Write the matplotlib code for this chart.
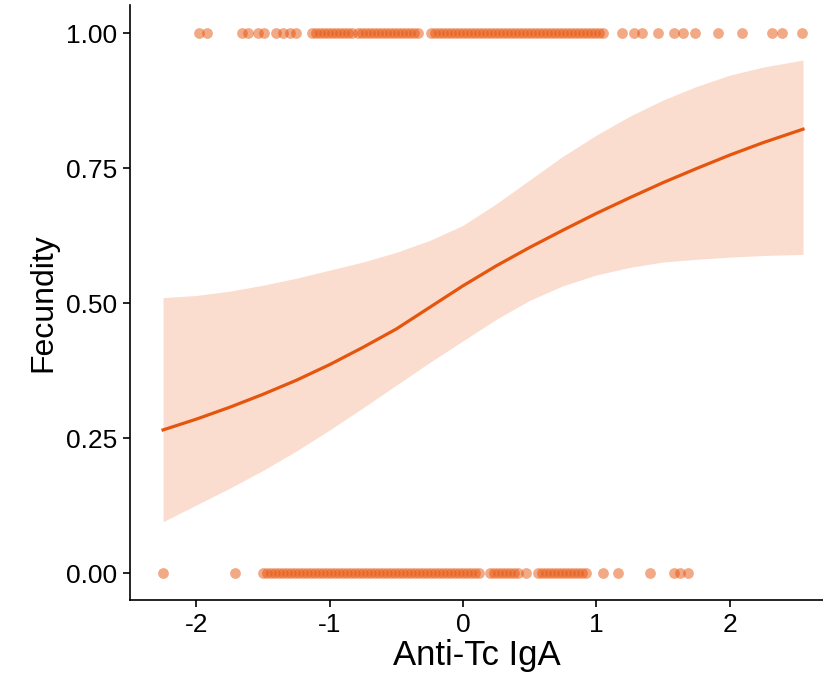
import numpy as np
import matplotlib
matplotlib.use("Agg")
import matplotlib.pyplot as plt

plt.rcParams['font.family'] = ['Liberation Sans', 'DejaVu Sans']
plt.rcParams['axes.unicode_minus'] = False

# ---- data ----
# individuals with Fecundity = 1
x_one = [-1.98, -1.92, -1.66, -1.61, -1.54, -1.49, -1.40, -1.35, -1.30, -1.25, -1.13,
         -1.10, -1.07, -1.04, -1.01, -0.98, -0.95, -0.92, -0.89, -0.86, -0.83,
         -0.79, -0.76, -0.73, -0.70, -0.67, -0.64, -0.61, -0.58, -0.55, -0.52,
         -0.49, -0.46, -0.43, -0.40, -0.37, -0.34,
         -0.24, -0.21, -0.18, -0.15, -0.12, -0.09, -0.06, -0.03, 0.00, 0.03,
         0.06, 0.09, 0.12, 0.15, 0.18, 0.21, 0.24, 0.27, 0.30, 0.33,
         0.36, 0.39, 0.42, 0.45, 0.48, 0.51, 0.54, 0.57, 0.60, 0.63,
         0.66, 0.69, 0.72, 0.75, 0.78, 0.81, 0.84, 0.87, 0.90, 0.93,
         0.96, 0.99, 1.02, 1.05,
         1.19, 1.28, 1.34, 1.46, 1.58, 1.65, 1.74, 1.91, 2.09, 2.32, 2.39, 2.54]
# individuals with Fecundity = 0
x_zero = [-2.25, -1.71, -1.50, -1.47, -1.44, -1.41, -1.38, -1.35, -1.32, -1.29,
          -1.26, -1.23, -1.20, -1.17, -1.14, -1.11, -1.08, -1.05, -1.02, -0.99,
          -0.96, -0.93, -0.90, -0.87, -0.84, -0.81, -0.78, -0.75, -0.72, -0.69,
          -0.66, -0.63, -0.60, -0.57, -0.54, -0.51, -0.48, -0.45, -0.42, -0.39,
          -0.36, -0.33, -0.30, -0.27, -0.24, -0.21, -0.18, -0.15, -0.12, -0.09,
          -0.06, -0.03, 0.00, 0.03, 0.06, 0.09, 0.12,
          0.20, 0.23, 0.26, 0.29, 0.32, 0.35, 0.38, 0.41, 0.47,
          0.56, 0.59, 0.62, 0.65, 0.68, 0.71, 0.74, 0.77, 0.80, 0.83,
          0.86, 0.89, 0.92, 1.05, 1.16, 1.40, 1.58, 1.63, 1.69]

# fitted curve and confidence band
fit_x = [-2.25, -2.0, -1.75, -1.5, -1.25, -1.0, -0.75, -0.5, -0.25, 0.0,
         0.25, 0.5, 0.75, 1.0, 1.25, 1.5, 1.75, 2.0, 2.25, 2.55]
fit_y = [0.265, 0.285, 0.307, 0.331, 0.357, 0.386, 0.418, 0.452, 0.492, 0.532,
         0.569, 0.603, 0.635, 0.666, 0.695, 0.723, 0.749, 0.774, 0.797, 0.822]
fit_lo = [0.095, 0.126, 0.157, 0.190, 0.226, 0.265, 0.306, 0.348, 0.390, 0.430,
          0.470, 0.505, 0.532, 0.552, 0.566, 0.576, 0.581, 0.585, 0.588, 0.590]
fit_hi = [0.510, 0.514, 0.522, 0.533, 0.546, 0.561, 0.576, 0.594, 0.616, 0.644,
          0.684, 0.728, 0.772, 0.811, 0.846, 0.876, 0.901, 0.922, 0.937, 0.950]

orange = '#E6550D'

fig = plt.figure(figsize=(8.23, 6.89), dpi=100)
ax = fig.add_axes([130 / 823, 89 / 689, 693 / 823, 595 / 689])

ax.fill_between(fit_x, fit_lo, fit_hi, color=orange, alpha=0.2, linewidth=0)
ax.plot(fit_x, fit_y, color=orange, linewidth=2.3)
ax.scatter(x_one, np.ones(len(x_one)), s=60, color=orange, alpha=0.5, linewidths=0)
ax.scatter(x_zero, np.zeros(len(x_zero)), s=60, color=orange, alpha=0.5, linewidths=0)

ax.set_xlim(-2.498, 2.70)
ax.set_ylim(-0.05, 1.052)
ax.set_xticks([-2, -1, 0, 1, 2])
ax.set_yticks([0, 0.25, 0.5, 0.75, 1.0])
ax.set_yticklabels(['0.00', '0.25', '0.50', '0.75', '1.00'])

for side in ['top', 'right']:
    ax.spines[side].set_visible(False)
for side in ['left', 'bottom']:
    ax.spines[side].set_linewidth(1.2)
ax.tick_params(axis='both', length=5, width=1.2, labelsize=19, colors='black', pad=4)

ax.set_xlabel('Anti-Tc IgA', fontsize=25, labelpad=2)
ax.set_ylabel('Fecundity', fontsize=23, labelpad=6)

fig.savefig('out.png', dpi=100)
